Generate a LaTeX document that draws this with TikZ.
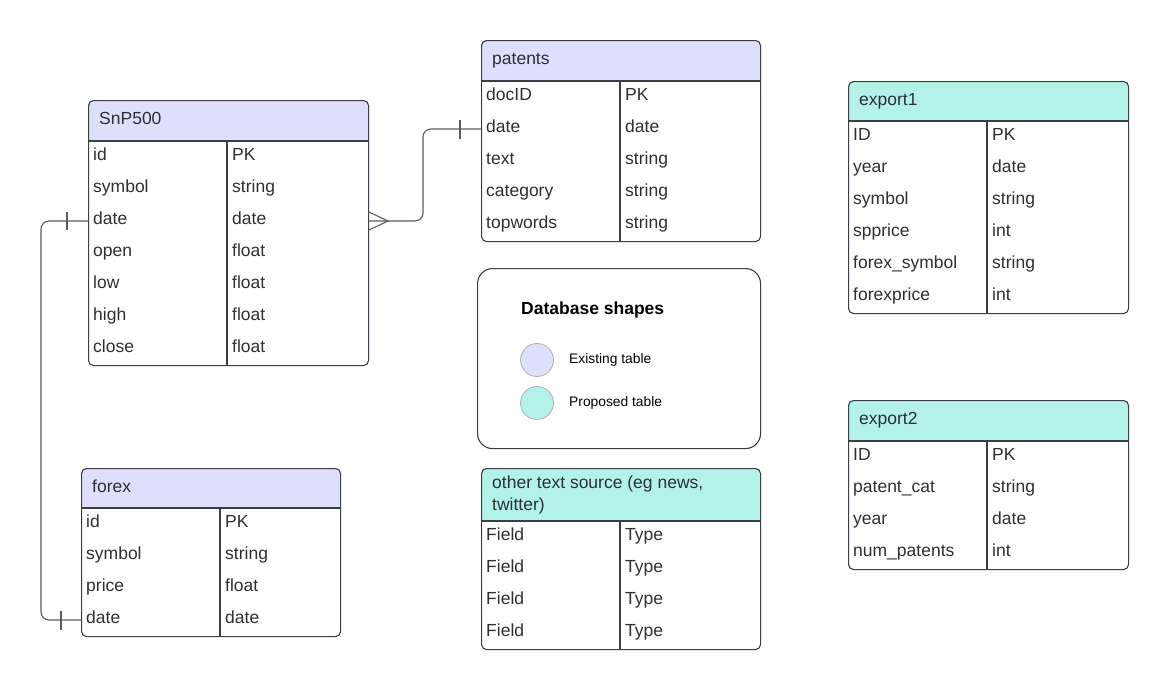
\documentclass[tikz,border=0pt]{standalone}
\usepackage{fontspec}
\setmainfont{Liberation Sans}
\definecolor{lav}{HTML}{DEDFFC}
\definecolor{tealc}{HTML}{B3F2E9}
\definecolor{bord}{HTML}{3A3F47}
\definecolor{txt}{HTML}{2B2F36}
\tikzset{
 tline/.style={draw=bord, line width=1.1pt},
 tframe/.style={draw=bord, line width=1.1pt, rounded corners=5pt, inner sep=0pt},
 thead/.style={anchor=west, inner sep=0pt, text=txt, font=\fontsize{17.5}{22}\selectfont, align=left},
 hdopt/.style={text height=12.5pt, text depth=4pt},
 tcell/.style={anchor=west, inner sep=0pt, text=txt, font=\fontsize{17.5}{20}\selectfont, text height=12pt, text depth=4pt},
 conn/.style={draw=bord!85, line width=1.1pt},
 legtext/.style={anchor=west, inner sep=0pt, text=black, font=\fontsize{13.8}{16}\selectfont, text height=10pt, text depth=3pt},
 legdot/.style={circle, minimum size=33pt, inner sep=0pt, line width=0.8pt},
}
\newcommand{\ertab}[9]{%
 \pgfmathsetmacro{\tabH}{#6+32*#5}
 \begin{scope}
  \clip[rounded corners=5pt] (#2,#3) rectangle ++(#4,\tabH);
  \fill[#7] (#2,#3) rectangle ++(#4,#6);
 \end{scope}
 \draw[tline] (#2,#3+#6) -- ++(#4,0);
 \draw[tline] (#2+139,#3+#6) -- (#2+139,#3+\tabH);
 \node[tframe, minimum width=#4pt, minimum height=\tabH pt, anchor=north west] (#1) at (#2,#3) {};
 \node[thead, hdopt] (#1-title) at (#2+11,#3+#6/2) {#8};
 \foreach \f/\t [count=\i] in {#9} {
   \coordinate (#1-r\i) at (#2, #3+#6+32*\i-16);
   \coordinate (#1-e\i) at (#2+#4, #3+#6+32*\i-16);
   \node[tcell] (#1-f\i) at (#2+5, #3+#6+32*\i-17) {\f};
   \node[tcell] (#1-t\i) at (#2+144, #3+#6+32*\i-17) {\t};
 }
}
\begin{document}
\begin{tikzpicture}[x=1pt, y=-1pt]
\useasboundingbox (0,0) rectangle (1168,689);

\ertab{snp}{88}{100}{280}{7}{41}{lav}{SnP500}{id/PK, symbol/string, date/date, open/float, low/float, high/float, close/float}
\ertab{pat}{481}{40}{279}{5}{41}{lav}{patents}{docID/PK, date/date, text/string, category/string, topwords/string}
\ertab{fx}{81}{468}{259}{4}{40}{lav}{forex}{id/PK, symbol/string, price/float, date/date}
\ertab{ex1}{848}{81}{280}{6}{40}{tealc}{export1}{ID/PK, year/date, symbol/string, spprice/int, forex\_symbol/string, forexprice/int}
\ertab{ex2}{848}{400}{280}{4}{41}{tealc}{export2}{ID/PK, patent\_cat/string, year/date, num\_patents/int}
\tikzset{hdopt/.style={}}
\ertab{oth}{481}{468}{279}{4}{53}{tealc}{other text source (eg news,\\twitter)}{Field/Type, Field/Type, Field/Type, Field/Type}

% connectors
\draw[conn, rounded corners=8pt] (snp-e3) -- ++(55,0) |- (pat-r2);
\draw[conn] ([yshift=9.5pt]snp-e3) -- ([xshift=20pt]snp-e3) -- ([yshift=-9.5pt]snp-e3);
\draw[conn] ([xshift=-21pt,yshift=9.5pt]pat-r2) -- ([xshift=-21pt,yshift=-9.5pt]pat-r2);

\draw[conn, rounded corners=8pt] (snp-r3) -- ++(-47,0) |- (fx-r4);
\draw[conn] ([xshift=-21pt,yshift=9pt]snp-r3) -- ([xshift=-21pt,yshift=-9pt]snp-r3);
\draw[conn] ([xshift=-20pt,yshift=9.5pt]fx-r4) -- ([xshift=-20pt,yshift=-9.5pt]fx-r4);

% legend
\node[draw=bord, line width=1.1pt, rounded corners=15pt, minimum width=283pt, minimum height=180pt, anchor=north west, inner sep=0pt] (leg) at (477,268) {};
\node[anchor=west, inner sep=0pt, text=black, font=\fontsize{17.5}{20}\selectfont\bfseries, text height=12.5pt, text depth=4pt] (legt) at (521,310.5) {Database shapes};
\node[legdot, fill=lav, draw=black!30] (dot1) at (537,360) {};
\node[legdot, fill=tealc, draw=black!30] (dot2) at (537,403) {};
\node[legtext] (leg1) at (569,360) {Existing table};
\node[legtext] (leg2) at (569,402.5) {Proposed table};
\end{tikzpicture}
\end{document}
